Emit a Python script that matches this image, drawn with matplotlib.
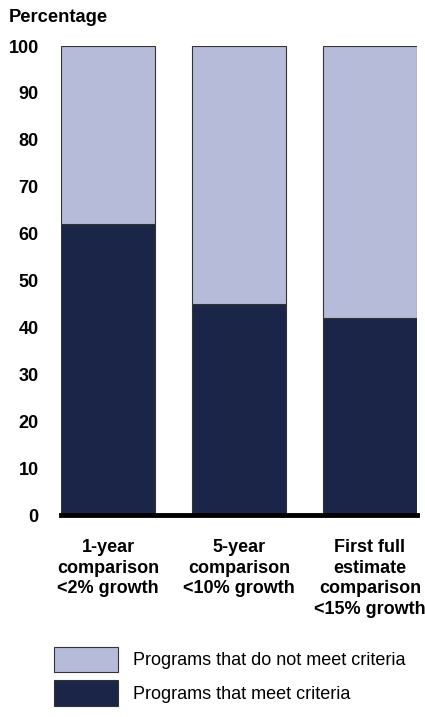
import matplotlib
matplotlib.use('Agg')
import matplotlib.pyplot as plt
import numpy as np

plt.rcParams['font.family'] = ['Liberation Sans', 'DejaVu Sans']

categories = ['1-year\ncomparison\n<2% growth',
              '5-year\ncomparison\n<10% growth',
              'First full\nestimate\ncomparison\n<15% growth']
meet = [62, 45, 42]
not_meet = [100 - v for v in meet]

dark = '#1b2548'
light = '#b7bbda'
edge = '#333333'

fig = plt.figure(figsize=(4.25, 7.17), dpi=100)
ax = fig.add_axes([0.1435, 0.2817, 0.8375, 0.6541])

x = np.arange(len(categories))
b1 = ax.bar(x, meet, width=0.72, color=dark, edgecolor=edge, linewidth=0.8,
            label='Programs that meet criteria')
b2 = ax.bar(x, not_meet, bottom=meet, width=0.72, color=light, edgecolor=edge,
            linewidth=0.8, label='Programs that do not meet criteria')

ax.set_xlim(-0.36, 2.36)
ax.set_ylim(0, 100)
ax.set_yticks(np.arange(0, 101, 10))
ax.set_xticks(x)
ax.set_xticklabels(categories, fontsize=13, fontweight='bold', linespacing=1.3)
for lab in ax.get_yticklabels():
    lab.set_fontweight('bold')
ax.tick_params(axis='y', length=0, pad=16, labelsize=13)
ax.tick_params(axis='x', length=0, pad=17)

for s in ['top', 'right', 'left']:
    ax.spines[s].set_visible(False)
ax.spines['bottom'].set_linewidth(3.5)
ax.spines['bottom'].set_color('black')

fig.text(9 / 425, 1 - 17 / 717, 'Percentage', fontsize=13.2, fontweight='bold',
         va='center', ha='left')

fig.legend([b2, b1], ['Programs that do not meet criteria', 'Programs that meet criteria'],
           loc='upper left', bbox_to_anchor=(54 / 425, 1 - 647 / 717),
           frameon=False, fontsize=13, handlelength=3.55, handleheight=1.78,
           labelspacing=0.44, handletextpad=0.85, borderpad=0, borderaxespad=0)

fig.savefig('out.png', dpi=100)
